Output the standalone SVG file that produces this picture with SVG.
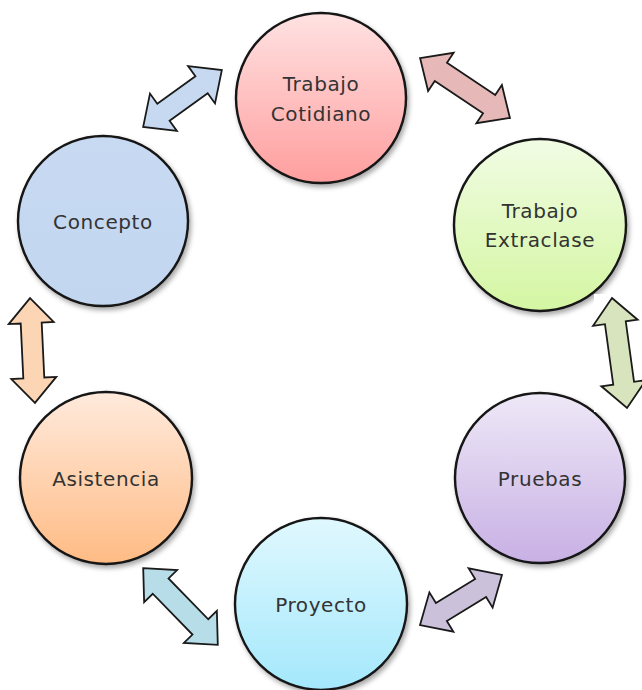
<svg xmlns="http://www.w3.org/2000/svg" width="642" height="690" viewBox="0 0 642 690">
  <defs>
    <filter id="sh" x="-20%" y="-20%" width="150%" height="150%">
      <feDropShadow dx="2" dy="3" stdDeviation="2.5" flood-color="#000" flood-opacity="0.35"/>
    </filter>
    <linearGradient id="gRed" x1="0" y1="0" x2="0" y2="1"><stop offset="0" stop-color="#FFE2E2"/><stop offset="1" stop-color="#FF9E9E"/></linearGradient>
    <linearGradient id="gBlue" x1="0" y1="0" x2="0" y2="1"><stop offset="0" stop-color="#C8DAF2"/><stop offset="1" stop-color="#C2D6F0"/></linearGradient>
    <linearGradient id="gGreen" x1="0" y1="0" x2="0" y2="1"><stop offset="0" stop-color="#F1FCE4"/><stop offset="1" stop-color="#D4F6A2"/></linearGradient>
    <linearGradient id="gPurple" x1="0" y1="0" x2="0" y2="1"><stop offset="0" stop-color="#EEE8F7"/><stop offset="1" stop-color="#C8B0E4"/></linearGradient>
    <linearGradient id="gOrange" x1="0" y1="0" x2="0" y2="1"><stop offset="0" stop-color="#FFEADC"/><stop offset="1" stop-color="#FFBB84"/></linearGradient>
    <linearGradient id="gCyan" x1="0" y1="0" x2="0" y2="1"><stop offset="0" stop-color="#E0F8FE"/><stop offset="1" stop-color="#A4E8FC"/></linearGradient>
  </defs>
  <style>
    .node { stroke: #141414; stroke-width: 2.4; filter: url(#sh); }
    .lbl { font-family: "DejaVu Sans", Verdana, sans-serif; font-size: 20px; letter-spacing: 0.6px; fill: #333333; text-anchor: middle; }
    .arr { stroke: #1a1a1a; stroke-width: 1.8; stroke-linejoin: miter; }
  </style>

  <g id="connectors">
    <path class="arr" fill="#C6D9F1" transform="translate(182.5,98.5) rotate(-35.8)" d="M-48.5,0 L-23.5,-23 L-23.5,-10.5 L23.5,-10.5 L23.5,-23 L48.5,0 L23.5,23 L23.5,10.5 L-23.5,10.5 L-23.5,23 Z"/>
    <path class="arr" fill="#E6B9B8" transform="translate(465,88) rotate(33.7)" d="M-54,0 L-29,-23 L-29,-11 L29,-11 L29,-23 L54,0 L29,23 L29,11 L-29,11 L-29,23 Z"/>
    <path class="arr" fill="#FCD5B5" transform="translate(32.5,350.5) rotate(87.3)" d="M-52.5,0 L-27.5,-22.5 L-27.5,-10.5 L27.5,-10.5 L27.5,-22.5 L52.5,0 L27.5,22.5 L27.5,10.5 L-27.5,10.5 L-27.5,22.5 Z"/>
    <path class="arr" fill="#B7DEE8" transform="translate(180.5,606.5) rotate(45.8)" d="M-53.5,0 L-28.5,-23 L-28.5,-11 L28.5,-11 L28.5,-23 L53.5,0 L28.5,23 L28.5,11 L-28.5,11 L-28.5,23 Z"/>
    <path class="arr" fill="#CCC1DA" transform="translate(461,600) rotate(-31.4)" d="M-48,0 L-23,-23 L-23,-10.5 L23,-10.5 L23,-23 L48,0 L23,23 L23,10.5 L-23,10.5 L-23,23 Z"/>
  </g>

  <g id="node-cotidiano">
    <circle class="node" cx="321" cy="98" r="85" fill="url(#gRed)"/>
    <text class="lbl" x="321" y="91">Trabajo</text>
    <text class="lbl" x="321" y="121">Cotidiano</text>
  </g>
  <g id="node-concepto">
    <circle class="node" cx="103" cy="221" r="85" fill="url(#gBlue)"/>
    <text class="lbl" x="103" y="229">Concepto</text>
  </g>
  <g id="node-extraclase">
    <circle class="node" cx="540" cy="225" r="86" fill="url(#gGreen)"/>
    <text class="lbl" x="540" y="218">Trabajo</text>
    <text class="lbl" x="540" y="247">Extraclase</text>
  </g>
  <g id="node-pruebas">
    <circle class="node" cx="540" cy="478" r="85" fill="url(#gPurple)"/>
    <text class="lbl" x="540" y="486">Pruebas</text>
  </g>
  <g id="node-asistencia">
    <circle class="node" cx="106" cy="478" r="86" fill="url(#gOrange)"/>
    <text class="lbl" x="106" y="486">Asistencia</text>
  </g>
  <g id="node-proyecto">
    <circle class="node" cx="321" cy="604" r="86" fill="url(#gCyan)"/>
    <text class="lbl" x="321" y="612">Proyecto</text>
  </g>

  <g id="connector-green">
    <rect x="594" y="294" width="48" height="118" fill="#ffffff"/>
    <path class="arr" fill="#D7E4BD" transform="translate(619.5,353) rotate(82.2)" d="M-55.5,0 L-30.5,-22.5 L-30.5,-10.5 L30.5,-10.5 L30.5,-22.5 L55.5,0 L30.5,22.5 L30.5,10.5 L-30.5,10.5 L-30.5,22.5 Z"/>
  </g>
</svg>
